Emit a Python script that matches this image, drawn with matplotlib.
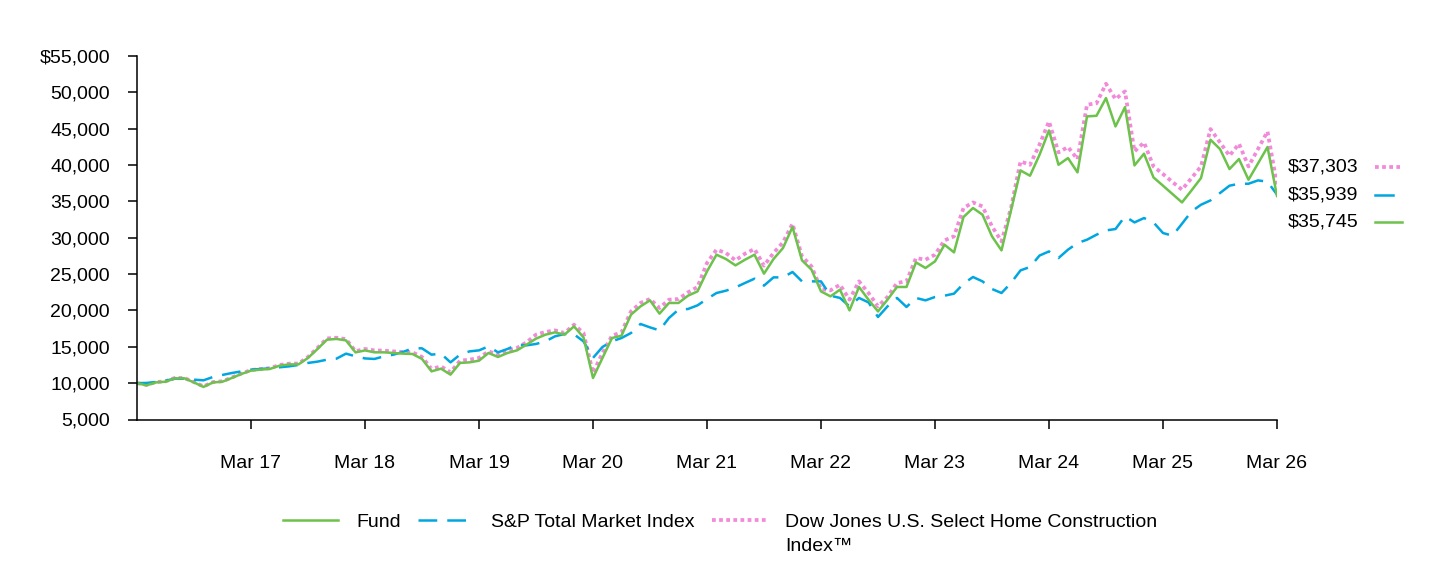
import numpy as np
import matplotlib
matplotlib.use("Agg")
import matplotlib.pyplot as plt
from matplotlib.lines import Line2D
from matplotlib.ticker import FuncFormatter

plt.rcParams['font.family'] = ['Liberation Sans', 'DejaVu Sans']

#%% data: monthly values, Mar 2016 .. Mar 2026 (hypothetical $10,000 investment)
fund = [10000, 9700, 10100, 10200, 10660, 10660, 10100, 9480, 10100, 10200,
        10720, 11270, 11720, 11860, 11960, 12400, 12580, 12580, 13470, 14700,
        15980, 16080, 15880, 14230, 14500, 14240, 14240, 14150, 14060, 14010,
        13330, 11620, 11990, 11170, 12780, 12860, 13090, 14150, 13600, 14150,
        14510, 15290, 16120, 16670, 16990, 16670, 17810, 16300, 10710, 13470,
        16210, 16530, 19420, 20560, 21390, 19560, 21030, 21030, 22030, 22620,
        25370, 27670, 27070, 26200, 26980, 27670, 25060, 27070, 28590, 31480,
        26890, 25610, 22620, 21940, 22860, 20010, 23230, 21480, 19870, 21480,
        23230, 23230, 26610, 25840, 26750, 29040, 27990, 32850, 34090, 33170,
        30190, 28260, 33760, 39260, 38530, 41400, 44760, 40040, 40960, 38990,
        46690, 46780, 49210, 45310, 47970, 39950, 41560, 38300, 37160, 36010,
        34860, 36510, 38210, 43480, 42200, 39450, 40830, 37980, 40220, 42480,
        35745]

sp_total = [10000, 10030, 10160, 10340, 10620, 10620, 10480, 10390, 10850, 11130,
            11400, 11620, 11860, 11950, 12040, 12180, 12310, 12500, 12780, 12960,
            13230, 13370, 14060, 13690, 13400, 13330, 13690, 13920, 14290, 14790,
            14790, 13920, 14060, 12860, 13920, 14370, 14510, 15060, 14240, 14700,
            15290, 15200, 15390, 15750, 16440, 16760, 16720, 15750, 13470, 14980,
            15750, 16210, 16900, 18140, 17670, 17260, 18970, 20110, 20200, 20700,
            21580, 22400, 22720, 23170, 23780, 24370, 23410, 24550, 24550, 25290,
            24000, 24000, 24000, 22030, 21720, 20560, 21720, 21110, 19100, 20560,
            21720, 20480, 21720, 21390, 21850, 22030, 22310, 23680, 24600, 24000,
            22950, 22400, 23780, 25510, 25980, 27550, 28120, 27210, 28360, 29270,
            29730, 30420, 31010, 31200, 32940, 32110, 32710, 32110, 30650, 30280,
            31930, 33620, 34540, 35140, 36150, 37160, 37430, 37430, 37890, 37710,
            35939]

dj_home = [10000, 9760, 10150, 10250, 10720, 10700, 10150, 9550, 10150, 10260,
           10780, 11330, 11800, 11950, 12050, 12500, 12680, 12700, 13600, 14850,
           16150, 16250, 16050, 14400, 14700, 14510, 14470, 14370, 14290, 14240,
           13600, 11950, 12310, 11490, 13090, 13230, 13470, 14370, 13920, 14510,
           14840, 15610, 16670, 17040, 17260, 16900, 18040, 16900, 11400, 14150,
           16530, 16990, 19870, 21030, 21580, 20340, 21480, 21580, 22490, 23220,
           26530, 28360, 27900, 26890, 27810, 28450, 26160, 27900, 29360, 31930,
           27440, 26060, 22950, 22760, 23540, 21480, 24000, 22400, 20560, 21850,
           23780, 24000, 27210, 26980, 27670, 29640, 30190, 34090, 34860, 34310,
           31560, 29500, 34090, 40500, 40040, 42800, 46000, 41740, 42480, 40800,
           48300, 48500, 51180, 49070, 50130, 41870, 43110, 39810, 38760, 37660,
           36610, 38210, 39810, 44950, 43110, 41280, 42930, 39810, 42200, 44620,
           37303]

tick_labels = ['Mar 17', 'Mar 18', 'Mar 19', 'Mar 20', 'Mar 21',
               'Mar 22', 'Mar 23', 'Mar 24', 'Mar 25', 'Mar 26']
end_labels = ['$37,303', '$35,939', '$35,745']

c_fund = '#6CC24A'
c_sp = '#00A6E0'
c_dj = '#F28AD9'
dots = (0, (1, 0.9))
dashes = (0, (7.5, 4))

#%% figure
fig = plt.figure(figsize=(14.4, 5.64), dpi=100)
ax = fig.add_axes([137/1440, 1 - 419.5/564, 1140/1440, 363.5/564])

months = np.arange(len(fund))
ax.plot(months, dj_home, color=c_dj, lw=2.7, linestyle=dots)
ax.plot(months, sp_total, color=c_sp, lw=1.8, linestyle=dashes)
ax.plot(months, fund, color=c_fund, lw=1.8)

ax.set_xlim(0, 120)
ax.set_ylim(5000, 55000)
ax.set_xticks(np.arange(12, 121, 12))
ax.set_xticklabels(tick_labels)
ax.set_yticks(np.arange(5000, 55001, 5000))
ax.yaxis.set_major_formatter(FuncFormatter(
    lambda v, p: f'${v:,.0f}' if v == 55000 else f'{v:,.0f}'))

for s in ['top', 'right']:
    ax.spines[s].set_visible(False)
for s in ['left', 'bottom']:
    ax.spines[s].set_linewidth(1.1)
ax.tick_params(axis='both', labelsize=14, width=1.1, length=6.5)
ax.tick_params(axis='x', pad=19)
ax.tick_params(axis='y', pad=13)

# end-value labels on the right
ys = [167, 195, 222]
styles = [(c_dj, dots, 2.7, 1400), (c_sp, '-', 1.8, 1393), (c_fund, '-', 1.8, 1402)]
for lab, y, (col, ls, lw, xend) in zip(end_labels, ys, styles):
    fig.text(1288/1440, 1 - y/564, lab, fontsize=14, va='center', ha='left')
    fig.add_artist(Line2D([1375/1440, xend/1440], [1 - y/564, 1 - y/564],
                          transform=fig.transFigure, color=col, lw=lw, linestyle=ls))

# bottom legend
handles = [Line2D([], [], color=c_fund, lw=1.8),
           Line2D([], [], color=c_sp, lw=1.8, linestyle=dashes),
           Line2D([], [], color=c_dj, lw=2.7, linestyle=dots)]
labels = ['Fund', 'S&P Total Market Index', 'Dow Jones U.S. Select Home Construction']
leg = fig.legend(handles, labels, loc='center', bbox_to_anchor=(0.5, 1 - 522/564),
                 ncol=3, frameon=False, fontsize=14, handlelength=2.85,
                 handletextpad=0.9, columnspacing=0.9, borderpad=0, borderaxespad=0)

fig.canvas.draw()
bb = leg.get_texts()[2].get_window_extent(fig.canvas.get_renderer())
fig.text(bb.x0/fig.bbox.width, ((bb.y0 + bb.y1)/2 - 24)/fig.bbox.height,
         'Index\u2122', fontsize=14, va='center', ha='left')

fig.savefig('out.png', dpi=100)
